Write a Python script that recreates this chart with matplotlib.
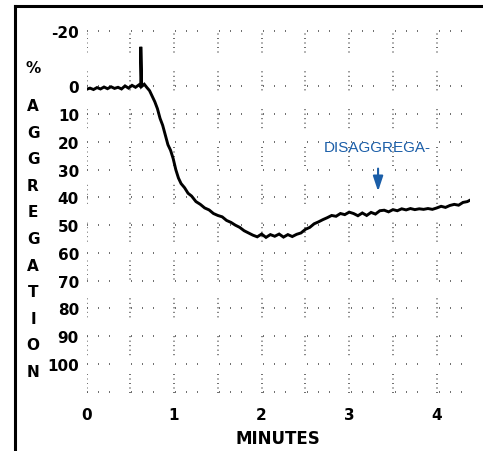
import numpy as np
import matplotlib
matplotlib.use('Agg')
import matplotlib.pyplot as plt
from matplotlib.lines import Line2D
from matplotlib.transforms import blended_transform_factory

plt.rcParams['axes.unicode_minus'] = False

# Aggregation trace (minutes, % aggregation)
time_min = [0.00, 0.04, 0.08, 0.12, 0.16, 0.20, 0.24, 0.28, 0.32, 0.36, 0.40, 0.44,
            0.48, 0.52, 0.56, 0.60, 0.62, 0.62, 0.63, 0.66, 0.69,
            0.72, 0.75, 0.78, 0.81, 0.84, 0.87, 0.90, 0.93, 0.96, 0.99,
            1.02, 1.05, 1.08, 1.12, 1.16, 1.20,
            1.25, 1.30, 1.35, 1.40, 1.45, 1.50, 1.55, 1.60, 1.65, 1.70,
            1.75, 1.80, 1.85, 1.90, 1.95, 2.00, 2.05, 2.10, 2.15, 2.20,
            2.25, 2.30, 2.35, 2.40, 2.45, 2.50, 2.55, 2.60, 2.65, 2.70,
            2.75, 2.80, 2.85, 2.90, 2.95, 3.00, 3.05, 3.10, 3.15, 3.20,
            3.25, 3.30, 3.35, 3.40, 3.45, 3.50, 3.55, 3.60, 3.65, 3.70,
            3.75, 3.80, 3.85, 3.90, 3.95, 4.00, 4.05, 4.10, 4.15, 4.20,
            4.25, 4.30, 4.35, 4.38]
aggregation = [1.0, 0.6, 1.1, 0.4, 0.9, 0.2, 0.8, 0.1, 0.7, 0.3, 0.9, -0.2,
               0.6, -0.4, 0.3, -0.6, 0.2, -14.3, 0.0, -0.8, 0.4,
               1.5, 3.5, 5.5, 8.0, 11.5, 14.0, 17.5, 21.0, 23.0, 26.0,
               30.0, 33.0, 35.0, 36.5, 38.5, 39.5,
               41.5, 42.5, 43.8, 44.5, 45.8, 46.5, 47.0, 48.3, 49.0, 50.0,
               50.8, 52.0, 52.8, 53.6, 54.2, 53.2, 54.4, 53.4, 54.0, 53.2,
               54.3, 53.4, 54.1, 53.3, 52.8, 51.5, 50.8, 49.5, 48.8, 48.0,
               47.3, 46.5, 46.8, 45.8, 46.2, 45.3, 45.8, 46.6, 45.6, 46.5,
               45.4, 46.0, 44.8, 44.6, 45.2, 44.4, 44.8, 44.1, 44.5, 44.0,
               44.4, 44.1, 44.3, 44.0, 44.3, 43.8, 43.2, 43.6, 42.9, 42.5,
               42.8, 41.8, 41.5, 41.0]

x_ticks = [0, 1, 2, 3, 4]
y_ticks = [-20, 0, 10, 20, 30, 40, 50, 60, 70, 80, 90, 100]
h_grid = [-20, 0, 10, 20, 30, 40, 50, 60, 70, 80, 90, 100, 110]
v_grid = [0, 0.5, 1, 1.5, 2, 2.5, 3, 3.5, 4]
ylabel_letters = ['A', 'G', 'G', 'R', 'E', 'G', 'A', 'T', 'I', 'O', 'N']
note_text = 'DISAGGREGA-'
note_x, note_y = 2.71, 22
arrow_x, arrow_top, arrow_tip = 3.33, 29.6, 37.8

blue = '#1b5ea8'
W, H = 483, 452

fig = plt.figure(figsize=(W / 100, H / 100), dpi=100)
ax = fig.add_axes([86.5 / W, 1 - 394 / H, (470 - 86.5) / W, (394 - 30.6) / H])

# dotted grid like the chart paper
for gy in h_grid:
    ax.axhline(gy, color='#555555', lw=1.2,
               linestyle=(0, (0.6, 6.0, 0.6, 6.0, 0.6, 12.6)), zorder=1)
for gx in v_grid:
    ax.axvline(gx, color='#555555', lw=1.2,
               linestyle=(0, (0.6, 2.1, 0.6, 2.1, 0.6, 2.1, 0.6, 2.1, 0.6, 11.3)), zorder=1)

# trace
ax.plot(time_min, aggregation, color='black', lw=2.1, solid_joinstyle='miter', zorder=3)

# annotation
ax.text(note_x, note_y, note_text, color=blue, fontsize=11,
        family='Liberation Sans', ha='left', va='center')
ax.annotate('', xy=(arrow_x, arrow_tip), xytext=(arrow_x, arrow_top),
            arrowprops=dict(arrowstyle='-|>,head_length=0.9,head_width=0.3',
                            color=blue, lw=1.5, shrinkA=0, shrinkB=0))

ax.set_xlim(0, 4.38)
ax.set_ylim(110.5, -20.5)
ax.set_xticks(x_ticks)
ax.set_yticks(y_ticks)
ax.tick_params(length=0, labelsize=11)
ax.tick_params(axis='y', pad=5.4)
ax.tick_params(axis='x', pad=10)
for lab in ax.get_xticklabels() + ax.get_yticklabels():
    lab.set_fontweight('bold')
for s in ax.spines.values():
    s.set_visible(False)

ax.set_xlabel('MINUTES', fontsize=12, fontweight='bold', labelpad=5)

# stacked y label
tr = blended_transform_factory(fig.transFigure, ax.transData)
ax.text(33 / W, -7, '%', transform=tr, fontsize=11, fontweight='bold',
        ha='center', va='center')
for pos, ch in zip(np.linspace(7, 102.6, len(ylabel_letters)), ylabel_letters):
    ax.text(33 / W, pos, ch, transform=tr, fontsize=11, fontweight='bold',
            ha='center', va='center')

# scan frame on left and top
fig.add_artist(Line2D([15 / W, 15 / W], [0, 1 - 6.5 / H], transform=fig.transFigure,
                      color='black', lw=2.2))
fig.add_artist(Line2D([15 / W, 1], [1 - 6.5 / H, 1 - 6.5 / H], transform=fig.transFigure,
                      color='black', lw=2.2))

plt.savefig('out.png', dpi=100)
